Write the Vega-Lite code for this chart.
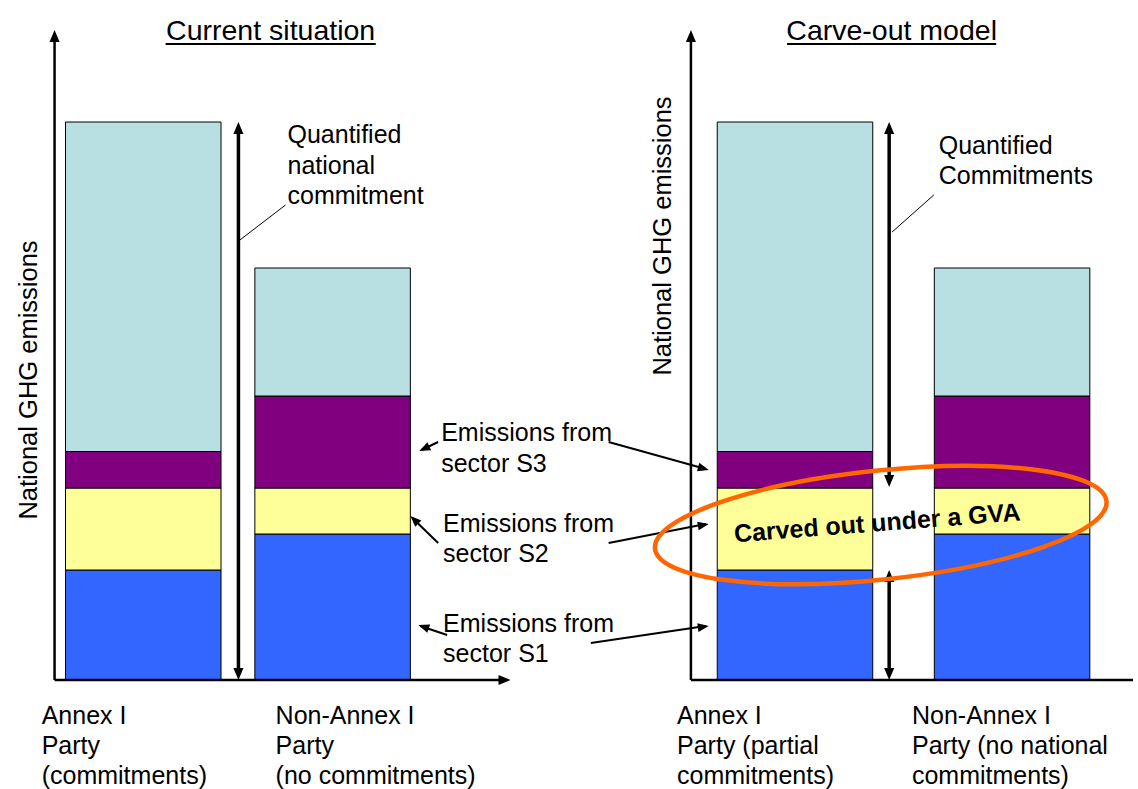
{
  "$schema": "https://vega.github.io/schema/vega-lite/v6.json",
  "width": 1138,
  "height": 789,
  "padding": 0,
  "autosize": {"type": "none"},
  "background": "white",
  "config": {"view": {"stroke": null}, "font": "Liberation Sans"},
  "datasets": {
    "bars": [
      {"panel": "Current situation", "party": "Annex I", "x": 139.5, "sector": "S1", "stack": 1, "y": 110},
      {"panel": "Current situation", "party": "Annex I", "x": 139.5, "sector": "S2", "stack": 2, "y": 82},
      {"panel": "Current situation", "party": "Annex I", "x": 139.5, "sector": "S3", "stack": 3, "y": 36.5},
      {"panel": "Current situation", "party": "Annex I", "x": 139.5, "sector": "Other", "stack": 4, "y": 329.5},
      {"panel": "Current situation", "party": "Non-Annex I", "x": 330.5, "sector": "S1", "stack": 1, "y": 146},
      {"panel": "Current situation", "party": "Non-Annex I", "x": 330.5, "sector": "S2", "stack": 2, "y": 46},
      {"panel": "Current situation", "party": "Non-Annex I", "x": 330.5, "sector": "S3", "stack": 3, "y": 92},
      {"panel": "Current situation", "party": "Non-Annex I", "x": 330.5, "sector": "Other", "stack": 4, "y": 128},
      {"panel": "Carve-out model", "party": "Annex I", "x": 797, "sector": "S1", "stack": 1, "y": 110},
      {"panel": "Carve-out model", "party": "Annex I", "x": 797, "sector": "S2", "stack": 2, "y": 82},
      {"panel": "Carve-out model", "party": "Annex I", "x": 797, "sector": "S3", "stack": 3, "y": 36.5},
      {"panel": "Carve-out model", "party": "Annex I", "x": 797, "sector": "Other", "stack": 4, "y": 329.5},
      {"panel": "Carve-out model", "party": "Non-Annex I", "x": 1016, "sector": "S1", "stack": 1, "y": 146},
      {"panel": "Carve-out model", "party": "Non-Annex I", "x": 1016, "sector": "S2", "stack": 2, "y": 46},
      {"panel": "Carve-out model", "party": "Non-Annex I", "x": 1016, "sector": "S3", "stack": 3, "y": 92},
      {"panel": "Carve-out model", "party": "Non-Annex I", "x": 1016, "sector": "Other", "stack": 4, "y": 128}
    ],
    "axisLines": [
      {"x": 50, "y": 0, "x2": 50, "y2": 644},
      {"x": 50, "y": 0, "x2": 504, "y2": 0},
      {"x": 692, "y": 0, "x2": 692, "y2": 644},
      {"x": 692, "y": 0, "x2": 1138, "y2": 0}
    ],
    "thickLines": [
      {"x": 235.5, "y": 552, "x2": 235.5, "y2": 6},
      {"x": 892, "y": 552, "x2": 892, "y2": 199},
      {"x": 892, "y": 104, "x2": 892, "y2": 6}
    ],
    "bigHeads": [
      {"x": 50, "y": 650, "angle": -90},
      {"x": 510, "y": 0, "angle": 0},
      {"x": 692, "y": 650, "angle": -90},
      {"x": 235.5, "y": 558, "angle": -90},
      {"x": 235.5, "y": 0, "angle": 90},
      {"x": 892, "y": 558, "angle": -90},
      {"x": 892, "y": 193, "angle": 90},
      {"x": 892, "y": 110, "angle": -90},
      {"x": 892, "y": 0, "angle": 90}
    ],
    "thinLines": [
      {"x": 437, "y": 238, "x2": 420, "y2": 230},
      {"x": 609, "y": 238, "x2": 707, "y2": 211},
      {"x": 437, "y": 137, "x2": 411, "y2": 162},
      {"x": 609, "y": 137, "x2": 707, "y2": 156},
      {"x": 446, "y": 45, "x2": 419, "y2": 54},
      {"x": 591, "y": 37, "x2": 707, "y2": 54}
    ],
    "smallHeads": [
      {"x": 418, "y": 229, "angle": 154.7},
      {"x": 710, "y": 210, "angle": 15.5},
      {"x": 409, "y": 164, "angle": -136},
      {"x": 710, "y": 156, "angle": -10.7},
      {"x": 417, "y": 55, "angle": -161},
      {"x": 710, "y": 54, "angle": -8.1}
    ],
    "leaders": [
      {"x": 237, "y": 440, "x2": 283, "y2": 475},
      {"x": 895, "y": 448, "x2": 937, "y2": 485}
    ],
    "underlines": [
      {"x": 162, "y": 636, "x2": 374, "y2": 636},
      {"x": 789, "y": 636, "x2": 1000, "y2": 636}
    ],
    "ellipse": [{"x": 883.5, "y": 155, "label": "Carved out under a GVA"}],
    "titles": [
      {"x": 268, "y": 640, "text": "Current situation"},
      {"x": 894.5, "y": 640, "text": "Carve-out model"}
    ],
    "axisTitles": [
      {"x": 32, "y": 300, "text": "National GHG emissions"},
      {"x": 672, "y": 444, "text": "National GHG emissions"}
    ],
    "labels": [
      {"x": 285, "y": 537, "text": "Quantified"},
      {"x": 285, "y": 506, "text": "national"},
      {"x": 285, "y": 476, "text": "commitment"},
      {"x": 942, "y": 526, "text": "Quantified"},
      {"x": 942, "y": 496, "text": "Commitments"},
      {"x": 440, "y": 239, "text": "Emissions from"},
      {"x": 440, "y": 208, "text": "sector S3"},
      {"x": 442, "y": 148, "text": "Emissions from"},
      {"x": 442, "y": 118, "text": "sector S2"},
      {"x": 442, "y": 48, "text": "Emissions from"},
      {"x": 442, "y": 18, "text": "sector S1"},
      {"x": 37, "y": -44, "text": "Annex I"},
      {"x": 37, "y": -74, "text": "Party"},
      {"x": 37, "y": -104, "text": "(commitments)"},
      {"x": 273, "y": -44, "text": "Non-Annex I"},
      {"x": 273, "y": -74, "text": "Party"},
      {"x": 273, "y": -104, "text": "(no commitments)"},
      {"x": 678, "y": -44, "text": "Annex I"},
      {"x": 678, "y": -74, "text": "Party (partial"},
      {"x": 678, "y": -104, "text": "commitments)"},
      {"x": 915, "y": -44, "text": "Non-Annex I"},
      {"x": 915, "y": -74, "text": "Party (no national"},
      {"x": 915, "y": -104, "text": "commitments)"}
    ],
    "gva": [{"x": 880.5, "y": 148.7, "text": "Carved out under a GVA"}]
  },
  "encoding": {
    "x": {"field": "x", "type": "quantitative", "scale": {"domain": [0, 1138], "nice": false, "zero": false}, "axis": null},
    "y": {"field": "y", "type": "quantitative", "scale": {"domain": [-109, 680], "nice": false, "zero": false}, "axis": null}
  },
  "layer": [
    {
      "data": {"name": "bars"},
      "mark": {"type": "bar", "orient": "vertical", "width": 155.5, "stroke": "#000000", "strokeWidth": 1},
      "encoding": {
        "color": {"field": "sector", "type": "nominal", "scale": {"domain": ["S1", "S2", "S3", "Other"], "range": ["#3366FF", "#FFFF99", "#800080", "#B8E0E2"]}, "legend": null},
        "order": {"field": "stack", "type": "quantitative"}
      }
    },
    {
      "data": {"name": "axisLines"},
      "mark": {"type": "rule", "color": "#000000", "strokeWidth": 2.5},
      "encoding": {"x2": {"field": "x2"}, "y2": {"field": "y2"}}
    },
    {
      "data": {"name": "thickLines"},
      "mark": {"type": "rule", "color": "#000000", "strokeWidth": 3.5},
      "encoding": {"x2": {"field": "x2"}, "y2": {"field": "y2"}}
    },
    {
      "data": {"name": "bigHeads"},
      "mark": {"type": "point", "shape": "M 0 0 L -1 -0.42 L -1 0.42 Z", "size": 576, "filled": true, "color": "#000000", "opacity": 1, "strokeWidth": 0},
      "encoding": {"angle": {"field": "angle", "type": "quantitative", "scale": null}}
    },
    {
      "data": {"name": "thinLines"},
      "mark": {"type": "rule", "color": "#000000", "strokeWidth": 2},
      "encoding": {"x2": {"field": "x2"}, "y2": {"field": "y2"}}
    },
    {
      "data": {"name": "smallHeads"},
      "mark": {"type": "point", "shape": "M 0 0 L -1 -0.4 L -1 0.4 Z", "size": 484, "filled": true, "color": "#000000", "opacity": 1, "strokeWidth": 0},
      "encoding": {"angle": {"field": "angle", "type": "quantitative", "scale": null}}
    },
    {
      "data": {"name": "leaders"},
      "mark": {"type": "rule", "color": "#000000", "strokeWidth": 1},
      "encoding": {"x2": {"field": "x2"}, "y2": {"field": "y2"}}
    },
    {
      "data": {"name": "underlines"},
      "mark": {"type": "rule", "color": "#000000", "strokeWidth": 2},
      "encoding": {"x2": {"field": "x2"}, "y2": {"field": "y2"}}
    },
    {
      "data": {"name": "ellipse"},
      "mark": {"type": "point", "shape": "M 1 0 C 1 0.1325 0.5523 0.24 0 0.24 C -0.5523 0.24 -1 0.1325 -1 0 C -1 -0.1325 -0.5523 -0.24 0 -0.24 C 0.5523 -0.24 1 -0.1325 1 0 Z", "size": 206116, "angle": -6, "filled": false, "color": "#FF6600", "stroke": "#FF6600", "strokeWidth": 4.5, "opacity": 1}
    },
    {
      "data": {"name": "titles"},
      "mark": {"type": "text", "font": "Liberation Sans", "fontSize": 28.5, "align": "center", "baseline": "alphabetic", "color": "#000000"},
      "encoding": {"text": {"field": "text", "type": "nominal"}}
    },
    {
      "data": {"name": "axisTitles"},
      "mark": {"type": "text", "font": "Liberation Sans", "fontSize": 25.5, "angle": 270, "align": "center", "baseline": "alphabetic", "color": "#000000"},
      "encoding": {"text": {"field": "text", "type": "nominal"}}
    },
    {
      "data": {"name": "labels"},
      "mark": {"type": "text", "font": "Liberation Sans", "fontSize": 25, "align": "left", "baseline": "alphabetic", "color": "#000000"},
      "encoding": {"text": {"field": "text", "type": "nominal"}}
    },
    {
      "data": {"name": "gva"},
      "mark": {"type": "text", "font": "Liberation Sans", "fontSize": 25, "fontWeight": "bold", "angle": -4.4, "align": "center", "baseline": "alphabetic", "color": "#000000"},
      "encoding": {"text": {"field": "text", "type": "nominal"}}
    }
  ]
}
